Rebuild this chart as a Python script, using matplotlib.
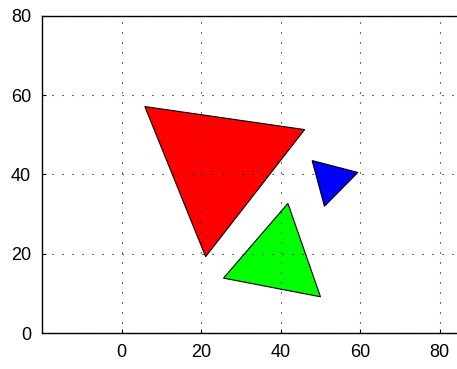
import matplotlib
matplotlib.use("Agg")
import matplotlib.pyplot as plt
from matplotlib.patches import Polygon

# triangle vertices (x, y) and fill colours
red_x = [5.8, 46.0, 21.1]
red_y = [57.1, 51.3, 19.3]
green_x = [41.8, 25.6, 50.0]
green_y = [32.7, 13.9, 9.2]
blue_x = [47.9, 59.4, 51.0]
blue_y = [43.5, 40.5, 32.0]

x_ticks = [0, 20, 40, 60, 80]
y_ticks = [0, 20, 40, 60, 80]

plt.rcParams["font.family"] = ["Liberation Sans", "DejaVu Sans"]

fig = plt.figure(figsize=(4.57, 3.69), dpi=100)
ax = fig.add_axes([0.0926, 0.0967, 0.913, 0.861])

for xs, ys, c in [(red_x, red_y, "#ff0000"),
                  (green_x, green_y, "#00ff00"),
                  (blue_x, blue_y, "#0000ff")]:
    ax.add_patch(Polygon(list(zip(xs, ys)), closed=True,
                         facecolor=c, edgecolor="black", linewidth=0.8))

ax.set_xlim(-20, 85)
ax.set_ylim(0, 80)
ax.set_xticks(x_ticks)
ax.set_yticks(y_ticks)
ax.tick_params(direction="in", length=3, labelsize=13, pad=8)
ax.grid(True, color="black", linestyle=(0, (1, 8)), linewidth=0.8)
for s in ax.spines.values():
    s.set_linewidth(1.0)

plt.savefig("out.png", dpi=100)
